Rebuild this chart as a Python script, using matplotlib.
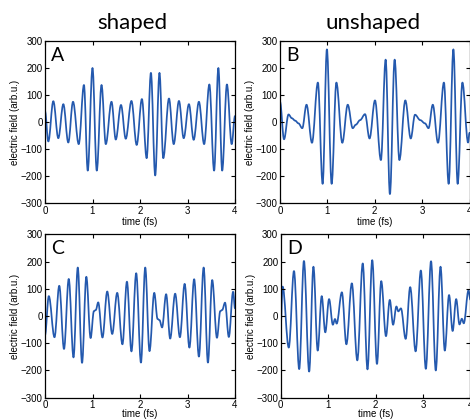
import matplotlib
matplotlib.use("Agg")
import matplotlib.pyplot as plt
from matplotlib.path import Path
from matplotlib.patches import PathPatch

# ---- data (extrema / shoulders of each trace) ----
tA = [0.00, 0.07, 0.175, 0.28, 0.386, 0.49, 0.59, 0.71, 0.82, 0.90, 1.00, 1.09, 1.19, 1.28,
      1.40, 1.49, 1.60, 1.70, 1.82, 1.93, 2.04, 2.14, 2.23, 2.32, 2.41, 2.49, 2.61, 2.71,
      2.82, 2.92, 3.03, 3.13, 3.24, 3.35, 3.46, 3.56, 3.65, 3.73, 3.83, 3.93, 4.00]
vA = [40, -72, 77, -60, 66, -76, 75, -82, 137, -180, 200, -180, 137, -82,
      75, -65, 63, -62, 78, -85, 85, -134, 182, -198, 182, -134, 87, -82,
      78, -60, 66, -66, 75, -82, 139, -180, 200, -180, 139, -82, 22]

tB = [0.00, 0.085, 0.18, 0.25, 0.32, 0.39, 0.47, 0.56, 0.675, 0.80, 0.90, 0.99, 1.09, 1.19,
      1.315, 1.43, 1.535, 1.60, 1.69, 1.795, 1.89, 2.005, 2.13, 2.23, 2.32, 2.42, 2.52, 2.645,
      2.76, 2.85, 2.96, 3.06, 3.135, 3.225, 3.335, 3.46, 3.56, 3.66, 3.75, 3.85, 3.97, 4.00]
vB = [75, -64, 28, 14, 5, -5, -23, 64, -77, 146, -229, 269, -229, 146,
      -77, 64, -23, -10, 7, 29, -61, 80, -141, 231, -267, 231, -141, 80,
      -61, 27, 7, -5, -23, 64, -77, 146, -229, 269, -229, 146, -76, -40]

tC = [0.00, 0.08, 0.20, 0.30, 0.40, 0.50, 0.60, 0.69, 0.78, 0.87, 0.96, 1.03, 1.07, 1.12,
      1.21, 1.31, 1.415, 1.52, 1.63, 1.725, 1.82, 1.92, 2.02, 2.11, 2.20, 2.30, 2.37, 2.41,
      2.465, 2.55, 2.635, 2.74, 2.84, 2.94, 3.04, 3.14, 3.24, 3.34, 3.43, 3.52, 3.62, 3.69,
      3.73, 3.79, 3.87, 3.96, 4.00]
vC = [-70, 73, -78, 111, -121, 136, -152, 178, -172, 144, -81, 18, 22, 50,
      -79, 90, -66, 85, -104, 126, -130, 157, -171, 178, -129, 85, -11, -15,
      -42, 80, -83, 82, -78, 118, -116, 135, -149, 178, -171, 132, -80, 18,
      22, 49, -77, 89, 28]

tD = [0.00, 0.04, 0.17, 0.28, 0.39, 0.49, 0.60, 0.69, 0.78, 0.865, 0.94, 1.02, 1.10, 1.145,
      1.18, 1.29, 1.385, 1.50, 1.615, 1.73, 1.83, 1.93, 2.03, 2.12, 2.22, 2.30, 2.37, 2.44,
      2.48, 2.535, 2.635, 2.73, 2.845, 2.955, 3.06, 3.17, 3.27, 3.37, 3.46, 3.55, 3.625, 3.70,
      3.77, 3.82, 3.86, 3.96, 4.00]
vD = [-39, 108, -116, 165, -195, 202, -204, 181, -127, 73, -60, 62, -32, -11,
      -28, 87, -104, 120, -163, 193, -196, 205, -176, 128, -74, 59, -32, 35,
      17, 28, -84, 106, -130, 167, -194, 201, -200, 181, -127, 77, -55, 62,
      -31, -10, -27, 94, 60]

panels = [("A", tA, vA), ("B", tB, vB), ("C", tC, vC), ("D", tD, vD)]
col_titles = ["shaped", "unshaped"]
xticks = [0, 1, 2, 3, 4]
yticks = [-300, -200, -100, 0, 100, 200, 300]


def smooth_path(t, v, k=0.363):
    """Cubic Bezier through the read points, flat tangent at each point."""
    verts = [(t[0], v[0])]
    codes = [Path.MOVETO]
    for i in range(len(t) - 1):
        dt = t[i + 1] - t[i]
        verts += [(t[i] + k * dt, v[i]), (t[i + 1] - k * dt, v[i + 1]), (t[i + 1], v[i + 1])]
        codes += [Path.CURVE4] * 3
    return Path(verts, codes)


W, H = 470, 419
fig = plt.figure(figsize=(W / 100, H / 100), dpi=100)

# pixel boxes (left, top, right, bottom)
boxes = [(45, 41, 235, 203), (280, 41, 469.5, 203),
         (45, 234.3, 235, 397.7), (280.7, 234.3, 470.4, 397.7)]
xlabel_y = [-0.085, -0.085, -0.072, -0.072]

line_color = "#2459ae"
tick_font = "Liberation Sans"

for (label, t, v), (l, tp, r, b), xly in zip(panels, boxes, xlabel_y):
    ax = fig.add_axes([l / W, (H - b) / H, (r - l) / W, (b - tp) / H])
    ax.add_patch(PathPatch(smooth_path(t, v), fill=False, edgecolor=line_color,
                           lw=1.25, joinstyle="round", capstyle="round"))
    ax.set_xlim(0, 4)
    ax.set_ylim(-300, 300)
    ax.set_xticks(xticks)
    ax.set_yticks(yticks)
    ax.tick_params(direction="in", length=3, width=0.8, top=True, right=True,
                   labelsize=7, pad=1.8, colors="black")
    for lab in ax.get_xticklabels() + ax.get_yticklabels():
        lab.set_fontfamily(tick_font)
    for s in ax.spines.values():
        s.set_linewidth(0.9)
    ax.set_xlabel("time (fs)", fontsize=7, fontfamily=tick_font)
    ax.set_ylabel("electric field (arb.u.)", fontsize=7, fontfamily=tick_font)
    ax.xaxis.set_label_coords(0.5, xly)
    ax.yaxis.set_label_coords(-0.13, 0.5)
    ax.text(0.032, 0.965, label, transform=ax.transAxes, ha="left", va="top",
            fontsize=14, fontfamily="Lato")

fig.text(132 / W, 1 - 23 / H, col_titles[0], ha="center", va="center",
         fontsize=16, fontfamily="Lato")
fig.text(373 / W, 1 - 23 / H, col_titles[1], ha="center", va="center",
         fontsize=16, fontfamily="Lato")

fig.savefig("out.png", dpi=100)
